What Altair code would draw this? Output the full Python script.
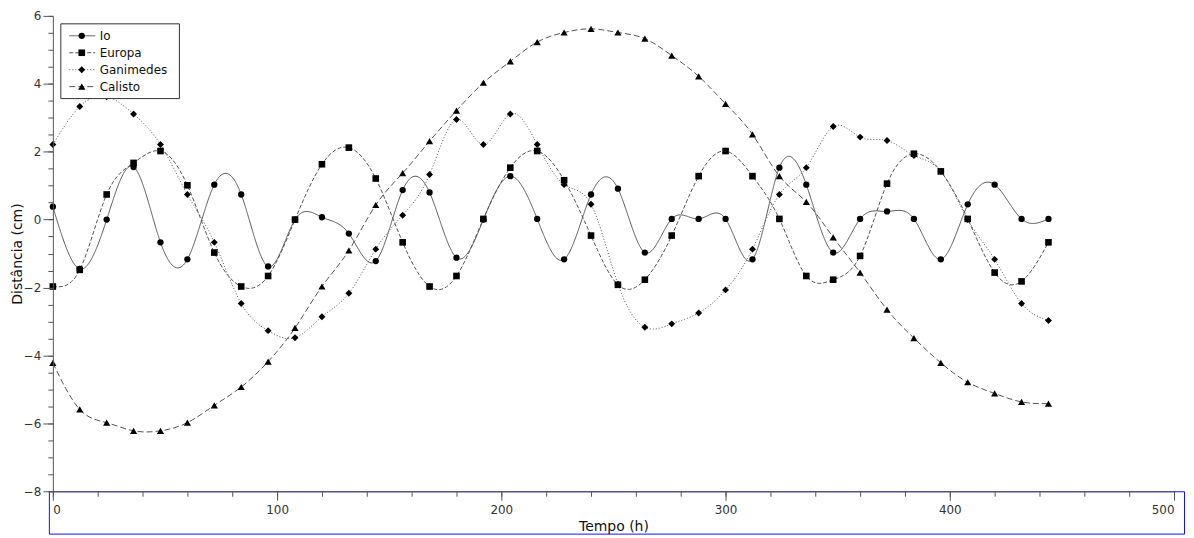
import altair as alt
import pandas as pd

series_names = ["Io", "Europa", "Ganimedes", "Calisto"]

hours = [0, 12, 24, 36, 48, 60, 72, 84, 96, 108, 120, 132, 144, 156, 168, 180,
         192, 204, 216, 228, 240, 252, 264, 276, 288, 300, 312, 324, 336, 348,
         360, 372, 384, 396, 408, 420, 432, 444]

io = [0.38, -1.45, 0.0, 1.55, -0.67, -1.17, 1.03, 0.74, -1.38, 0.0, 0.07, -0.41,
      -1.22, 0.87, 0.80, -1.12, 0.0, 1.28, 0.02, -1.17, 0.74, 0.91, -0.97, 0.02,
      0.02, 0.02, -1.17, 1.53, 1.03, -0.97, 0.02, 0.24, 0.02, -1.17, 0.45, 1.03,
      0.02, 0.02]

europa = [-1.97, -1.48, 0.74, 1.67, 2.02, 1.01, -0.97, -1.97, -1.66, 0.0, 1.63,
          2.12, 1.21, -0.67, -1.97, -1.66, 0.02, 1.53, 2.02, 1.16, -0.47, -1.92,
          -1.77, -0.47, 1.28, 2.02, 1.28, 0.02, -1.66, -1.77, -1.07, 1.06, 1.94,
          1.42, 0.02, -1.56, -1.82, -0.67]

ganimedes = [2.21, 3.33, 3.62, 3.11, 2.21, 0.74, -0.67, -2.47, -3.27, -3.48, -2.86,
             -2.17, -0.87, 0.13, 1.33, 2.95, 2.21, 3.11, 2.21, 1.03, 0.45, -1.90,
             -3.17, -3.07, -2.75, -2.07, -0.87, 0.74, 1.53, 2.74, 2.43, 2.33, 1.89,
             1.42, 0.0, -1.17, -2.47, -2.97]

calisto = [-4.22, -5.59, -5.98, -6.22, -6.22, -5.98, -5.47, -4.93, -4.18, -3.19,
           -1.97, -0.91, 0.43, 1.37, 2.31, 3.21, 4.03, 4.66, 5.23, 5.51, 5.62, 5.51,
           5.33, 4.83, 4.22, 3.41, 2.51, 1.28, 0.52, -0.52, -1.56, -2.65, -3.49,
           -4.22, -4.79, -5.12, -5.37, -5.42]

x_major = [0, 100, 200, 300, 400, 500]
x_minor = [0, 20, 40, 60, 80, 100, 120, 140, 160, 180, 200, 220, 240, 260, 280,
           300, 320, 340, 360, 380, 400, 420, 440, 460, 480, 500]
y_major = [-8, -6, -4, -2, 0, 2, 4, 6]
y_minor = [-8, -7.5, -7, -6.5, -6, -5.5, -5, -4.5, -4, -3.5, -3, -2.5, -2, -1.5,
           -1, -0.5, 0, 0.5, 1, 1.5, 2, 2.5, 3, 3.5, 4, 4.5, 5, 5.5, 6]

values = {"Io": io, "Europa": europa, "Ganimedes": ganimedes, "Calisto": calisto}
rows = []
for name in series_names:
    for h, v in zip(hours, values[name]):
        rows.append({"serie": name, "tempo": h, "dist": v})
df = pd.DataFrame(rows)

FONT = "DejaVu Sans"
W, H = 1125, 477

dash_scale = alt.Scale(domain=series_names, range=[[1, 0], [4, 2], [1, 2], [6, 3]])
shape_scale = alt.Scale(domain=series_names,
                        range=["circle", "square", "diamond", "triangle-up"])
size_scale = alt.Scale(domain=series_names, range=[40, 52, 24, 40])
xs = alt.Scale(domain=[0, 500], nice=False, zero=False)
ys = alt.Scale(domain=[-8, 6], nice=False, zero=False)

axis_common = dict(grid=False, domainColor="#555555", tickColor="#555555",
                   labelColor="#333333", labelFont=FONT, labelFontSize=12,
                   titleFont=FONT, titleFontSize=14, titleFontWeight="normal",
                   titleColor="#111111", zindex=1)

lines = alt.Chart(df).mark_line(interpolate="natural", color="#555555",
                                strokeWidth=1).encode(
    x=alt.X("tempo:Q", scale=xs,
            axis=alt.Axis(values=x_major, tickSize=9, labelPadding=4,
                          title="Tempo (h)", titleX=W / 2, titleY=35,
                          titleBaseline="middle", orient="bottom",
                          **axis_common)),
    y=alt.Y("dist:Q", scale=ys,
            axis=alt.Axis(values=y_major, tickSize=10, labelPadding=2,
                          title="Distância (cm)", titleX=-35, titleY=H / 2,
                          titleAngle=270, titleAlign="center",
                          titleBaseline="middle", orient="left",
                          **axis_common)),
    strokeDash=alt.StrokeDash("serie:N", scale=dash_scale, legend=None),
    detail="serie:N",
)

points = alt.Chart(df).mark_point(filled=True, color="#000000", opacity=1).encode(
    x=alt.X("tempo:Q", scale=xs,
            axis=alt.Axis(values=x_minor, tickSize=5, labels=False, domain=False,
                          grid=False, title="", orient="bottom",
                          tickColor="#555555", zindex=1)),
    y=alt.Y("dist:Q", scale=ys,
            axis=alt.Axis(values=y_minor, tickSize=5, labels=False, domain=False,
                          grid=False, title="", orient="left",
                          tickColor="#555555", zindex=1)),
    shape=alt.Shape("serie:N", scale=shape_scale, legend=None),
    size=alt.Size("serie:N", scale=size_scale, legend=None),
)

main = alt.layer(lines, points).resolve_axis(x="independent", y="independent")

# legend (drawn inside the plot, top-left)
leg_df = pd.DataFrame({"serie": series_names, "row": [0, 1, 2, 3]})
leg_y = alt.Y("row:Q", scale=alt.Scale(domain=[0, 3], range=[20, 71]), axis=None)

box = alt.Chart(pd.DataFrame({"a": [0]})).mark_rect(
    fill="white", stroke="#333333", strokeWidth=1).encode(
    x=alt.value(8), x2=alt.value(127), y=alt.value(8), y2=alt.value(83))

leg_lines = alt.Chart(leg_df).mark_rule(color="#555555", strokeWidth=1).encode(
    x=alt.value(16.5), x2=alt.value(42.5), y=leg_y,
    strokeDash=alt.StrokeDash("serie:N", scale=dash_scale, legend=None))

leg_pts = alt.Chart(leg_df).mark_point(filled=True, color="#000000", opacity=1).encode(
    x=alt.value(29), y=leg_y,
    shape=alt.Shape("serie:N", scale=shape_scale, legend=None),
    size=alt.Size("serie:N", scale=size_scale, legend=None))

leg_txt = alt.Chart(leg_df).mark_text(align="left", baseline="middle", font=FONT,
                                      fontSize=12, color="#111111").encode(
    x=alt.value(47), y=leg_y, text="serie:N")

legend = alt.layer(box, leg_lines, leg_pts, leg_txt)

# blue selection frame around the x axis
frame = alt.Chart(pd.DataFrame({"a": [0]})).mark_rect(
    fill="transparent", stroke="#1010ff", strokeWidth=1).encode(
    x=alt.value(-3.5), x2=alt.value(1135.5), y=alt.value(477.5), y2=alt.value(520))

chart = alt.layer(main, legend, frame).resolve_scale(y="independent").properties(
    width=W, height=H,
    autosize=alt.AutoSizeParams(type="none"),
    padding={"left": 45, "top": 7, "right": 12, "bottom": 44},
).configure_view(strokeWidth=0)

chart.save("out.html", embed_options={"renderer": "svg", "actions": False})
